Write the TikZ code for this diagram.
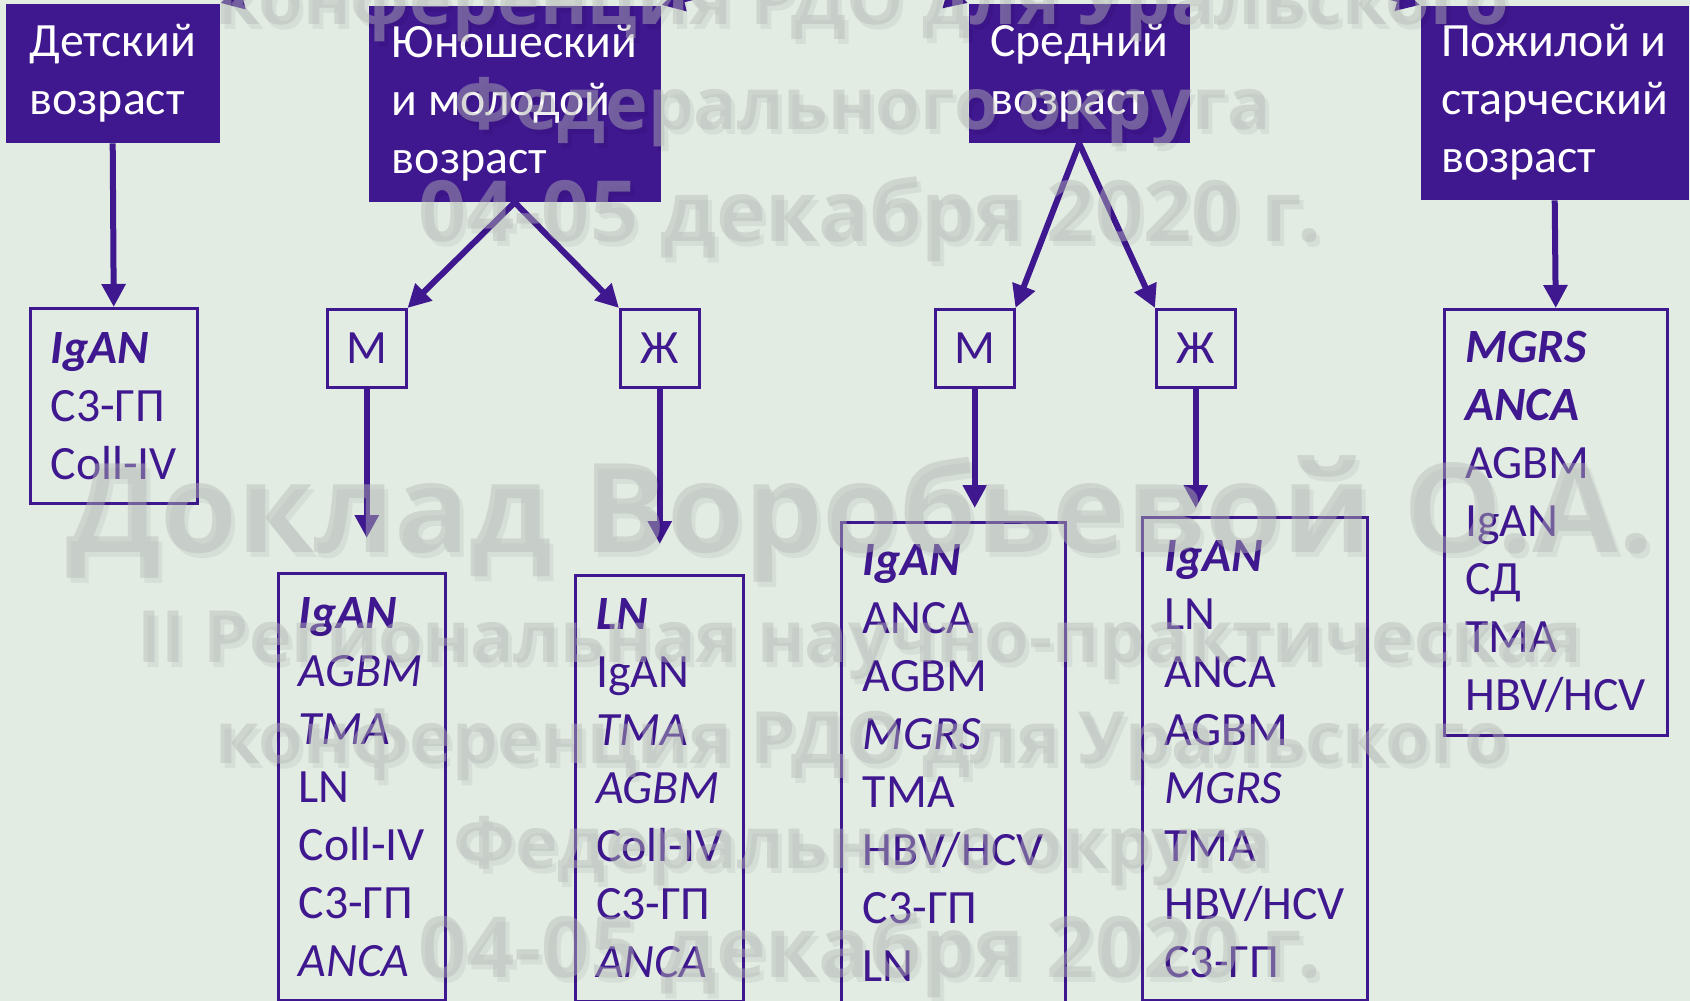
\documentclass[tikz,border=0pt]{standalone}
\usepackage{fontspec}
\setmainfont{Carlito}
\newfontfamily\wmfont{Open Sans}
\usepackage{tikz}
\usetikzlibrary{arrows.meta}
\definecolor{vio}{RGB}{63,23,143}
\definecolor{bgcol}{RGB}{226,236,227}
\definecolor{wmgray}{RGB}{182,184,182}
\newcommand{\boxfont}{\fontsize{13.6}{16.5}\selectfont}
\newcommand{\bfit}[1]{\textbf{\textit{#1}}}
\tikzset{agebox/.style={fill=vio,text=white,anchor=north west,align=left,inner sep=0pt,font=\boxfont},
  sexbox/.style={draw=vio,line width=0.25mm,text=vio,anchor=north west,inner sep=0pt,minimum width=7.9mm,minimum height=7.8mm,font=\boxfont},
  listbox/.style={draw=vio,line width=0.25mm,text=vio,anchor=north west,align=left,inner sep=0pt,font=\boxfont},
  link/.style={draw=vio,line width=0.6mm},
  wmark/.style={text=wmgray,text opacity=0.45,anchor=base,inner sep=0pt},
  wshadow/.style={text=black,text opacity=0.05,anchor=base,inner sep=0pt}}

\begin{document}
\begin{tikzpicture}[x=0.1mm,y=-0.1mm,>={Triangle[length=2.3mm,width=2.3mm]}]
    \clip (0,0) rectangle (1690,1001);
    \fill[bgcol] (0,0) rectangle (1690,1001);

    \node[agebox,minimum width=21.4mm,minimum height=13.9mm] (child) at (5,3) {Детский\\возраст};
    \node[agebox,minimum width=29.2mm,minimum height=19.6mm] (young) at (368,5) {Юношеский\\и~молодой\\возраст};
    \node[agebox,minimum width=22.1mm,minimum height=13.9mm] (middle) at (968,3) {Средний\\возраст};
    \node[agebox,minimum width=26.8mm,minimum height=19.4mm] (old) at (1420,5) {Пожилой~и\\старческий\\возраст};

    \coordinate (feedA) at (340,-27);
    \coordinate (feedB) at (780,-25);
    \coordinate (feedC) at (868,-27);
    \coordinate (feedD) at (1310,-25);
    \foreach \src/\tgt in {feedA/child.north east,feedB/young.north east,feedC/middle.north west,feedD/old.north west} {
      \draw[->,link] (\src) -- (\tgt);
    }

    \node[sexbox] (youngM) at (326,308) {М};
    \node[sexbox] (youngF) at (619,308) {Ж};
    \node[sexbox] (middleM) at (934,308) {М};
    \node[sexbox] (middleF) at (1155,308) {Ж};

    \node[listbox,minimum width=16.7mm,minimum height=19.5mm] (childList) at (29,307) {\bfit{IgAN}\\С3-ГП\\Coll-IV};
    \node[listbox,minimum width=16.7mm,minimum height=42.7mm] (youngMList) at (277,572)
      {\bfit{IgAN}\\\textit{AGBM}\\\textit{TMA}\\LN\\Coll-IV\\С3-ГП\\\textit{ANCA}};
    \node[listbox,minimum width=16.8mm,minimum height=42.6mm] (youngFList) at (574,574)
      {\bfit{LN}\\IgAN\\\textit{TMA}\\\textit{AGBM}\\Coll-IV\\С3-ГП\\\textit{ANCA}};
    \node[listbox,minimum width=22.4mm,minimum height=48.2mm] (middleMList) at (840,521)
      {\bfit{IgAN}\\ANCA\\AGBM\\\textit{MGRS}\\TMA\\HBV/HCV\\С3-ГП\\LN};
    \node[listbox,minimum width=22.5mm,minimum height=48.3mm] (middleFList) at (1141,516)
      {\bfit{IgAN}\\LN\\ANCA\\AGBM\\\textit{MGRS}\\TMA\\HBV/HCV\\С3-ГП};
    \node[listbox,minimum width=22.3mm,minimum height=42.6mm] (oldList) at (1443,308)
      {\bfit{MGRS}\\\bfit{ANCA}\\AGBM\\IgAN\\СД\\TMA\\HBV/HCV};

    \draw[->,link] (child.south) -- (childList.north);
    \draw[->,link] (young.south) -- (youngM.north east);
    \draw[->,link] (young.south) -- (youngF.north west);
    \draw[->,link] (middle.south) -- (middleM.north east);
    \draw[->,link] (middle.south) -- (middleF.north west);
    \draw[->,link] (old.south) -- (oldList.north);
    \draw[->,link,shorten >=3.4mm] (youngM.south) -- (youngM.south |- youngMList.north);
    \draw[->,link,shorten >=3mm] (youngF.south) -- (youngF.south |- youngFList.north);
    \draw[->,link,shorten >=1.3mm] (middleM.south) -- (middleM.south |- middleMList.north);
    \draw[->,link,shorten >=0.8mm] (middleF.south) -- (middleF.south |- middleFList.north);

    \foreach \wx/\wy/\wsz/\wtxt [count=\k] in {862/25/20.5/конференция РДО для Уральского,
        862/130/20.5/Федерального округа,870/242/24/04-05 декабря 2020 г.,
        860/552/35.3/Доклад Воробьевой О.А.,860/662/20.5/II Региональная научно-практическая,
        862/763/20.5/конференция РДО для Уральского,862/868/20.5/Федерального округа,
        870/977/24/04-05 декабря 2020 г.} {
      \node[wshadow,font=\wmfont\bfseries\fontsize{\wsz}{\wsz}\selectfont] (wmS\k) at (\wx+4,\wy+5) {\wtxt};
      \node[wmark,font=\wmfont\bfseries\fontsize{\wsz}{\wsz}\selectfont] (wm\k) at (\wx,\wy) {\wtxt};
    }
\end{tikzpicture}
\end{document}
